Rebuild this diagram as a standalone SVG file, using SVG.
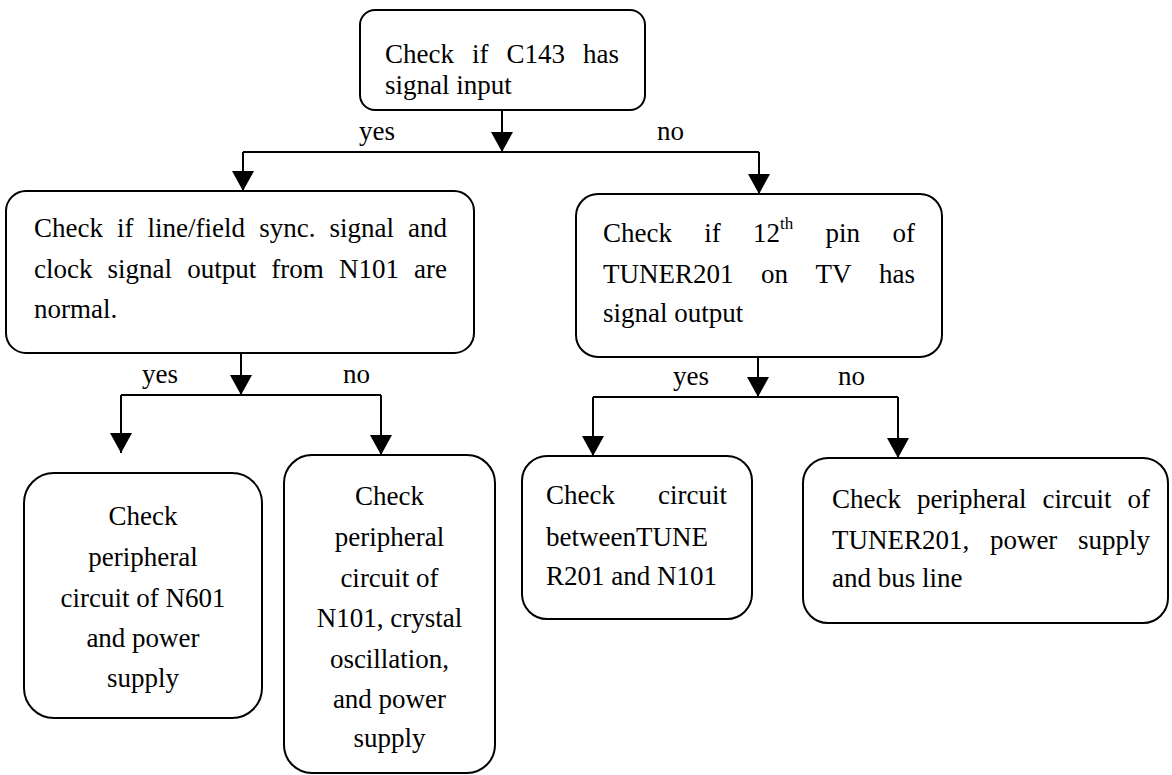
<svg xmlns="http://www.w3.org/2000/svg" width="1172" height="775" viewBox="0 0 1172 775">
  <defs>
    <style>
      .box { fill: #ffffff; stroke: #000000; stroke-width: 2; }
      text { font-family: 'Liberation Serif', 'Times New Roman', Tinos, 'DejaVu Serif', serif; font-size: 27px; fill: #000000; }
      .c { text-anchor: middle; }
      .sup { font-size: 17px; }
      .ln { fill: none; stroke: #000000; stroke-width: 2; }
      .arr { fill: none; stroke: #000000; stroke-width: 2; marker-end: url(#ah); }
    </style>
    <marker id="ah" markerUnits="userSpaceOnUse" viewBox="0 0 20 22" refX="20" refY="11" markerWidth="20" markerHeight="22" orient="auto">
      <path d="M0,0 L20,11 L0,22 Z" fill="#000000"/>
    </marker>
  </defs>
  <rect width="1172" height="775" fill="#ffffff"/>

  <g id="connectors" font-family="Liberation Serif, serif">
    <path class="arr" d="M502,110 V152"/>
    <path class="ln" d="M243,152 H759"/>
    <path class="arr" d="M243,152 V191"/>
    <path class="arr" d="M759,152 V194"/>
    <path class="arr" d="M241,353 V395"/>
    <path class="ln" d="M121,395 H381"/>
    <path class="arr" d="M121,395 V453"/>
    <path class="arr" d="M381,395 V455"/>
    <path class="arr" d="M758,357 V397"/>
    <path class="ln" d="M593,397 H898"/>
    <path class="arr" d="M593,397 V456"/>
    <path class="arr" d="M898,397 V458"/>
    <text x="359" y="140">yes</text>
    <text x="657" y="140">no</text>
    <text x="142" y="383">yes</text>
    <text x="343" y="383">no</text>
    <text x="673" y="385">yes</text>
    <text x="838" y="385">no</text>
  </g>

  <g id="node-c143">
    <rect class="box" x="360" y="10" width="285" height="100" rx="15" ry="15"/>
    <text y="63"><tspan x="385">Check</tspan><tspan x="472">if</tspan><tspan x="506.5">C143</tspan><tspan x="583">has</tspan></text>
    <text x="385" y="94">signal input</text>
  </g>

  <g id="node-sync">
    <rect class="box" x="6" y="191" width="468" height="162" rx="20" ry="20"/>
    <text y="237"><tspan x="34">Check</tspan><tspan x="117">if</tspan><tspan x="147.6">line/field</tspan><tspan x="259.2">sync.</tspan><tspan x="329.5">signal</tspan><tspan x="408">and</tspan></text>
    <text y="278"><tspan x="34">clock</tspan><tspan x="107.6">signal</tspan><tspan x="187.2">output</tspan><tspan x="271.3">from</tspan><tspan x="338.9">N101</tspan><tspan x="414">are</tspan></text>
    <text x="34" y="318">normal.</text>
  </g>

  <g id="node-tuner-pin">
    <rect class="box" x="576" y="194" width="366" height="163" rx="22" ry="22"/>
    <text y="242"><tspan x="603">Check</tspan><tspan x="704.3">if</tspan><tspan x="753.1">12</tspan><tspan class="sup" dy="-13">th</tspan><tspan x="825.6" dy="13">pin</tspan><tspan x="892.4">of</tspan></text>
    <text y="283"><tspan x="603">TUNER201</tspan><tspan x="761">on</tspan><tspan x="815.5">TV</tspan><tspan x="879">has</tspan></text>
    <text x="603" y="322">signal output</text>
  </g>

  <g id="node-n601">
    <rect class="box" x="24" y="473" width="238" height="245" rx="30" ry="30"/>
    <text class="c" x="143" y="525">Check</text>
    <text class="c" x="143" y="566">peripheral</text>
    <text class="c" x="143" y="607">circuit of N601</text>
    <text class="c" x="143" y="647">and power</text>
    <text class="c" x="143" y="687">supply</text>
  </g>

  <g id="node-n101">
    <rect class="box" x="284" y="455" width="211" height="318" rx="28" ry="28"/>
    <text class="c" x="389.5" y="505">Check</text>
    <text class="c" x="389.5" y="546">peripheral</text>
    <text class="c" x="389.5" y="587">circuit of</text>
    <text class="c" x="389.5" y="627">N101, crystal</text>
    <text class="c" x="389.5" y="668">oscillation,</text>
    <text class="c" x="389.5" y="708">and power</text>
    <text class="c" x="389.5" y="747">supply</text>
  </g>

  <g id="node-between">
    <rect class="box" x="522" y="456" width="230" height="163" rx="25" ry="25"/>
    <text y="504"><tspan x="546">Check</tspan><tspan x="727" text-anchor="end">circuit</tspan></text>
    <text x="546" y="546">betweenTUNE</text>
    <text x="546" y="585">R201 and N101</text>
  </g>

  <g id="node-tuner-periph">
    <rect class="box" x="803" y="458" width="365" height="165" rx="25" ry="25"/>
    <text y="508"><tspan x="832">Check</tspan><tspan x="917">peripheral</tspan><tspan x="1042.5">circuit</tspan><tspan x="1127.5">of</tspan></text>
    <text y="549"><tspan x="832">TUNER201,</tspan><tspan x="989.9">power</tspan><tspan x="1078">supply</tspan></text>
    <text x="832" y="587">and bus line</text>
  </g>
</svg>
